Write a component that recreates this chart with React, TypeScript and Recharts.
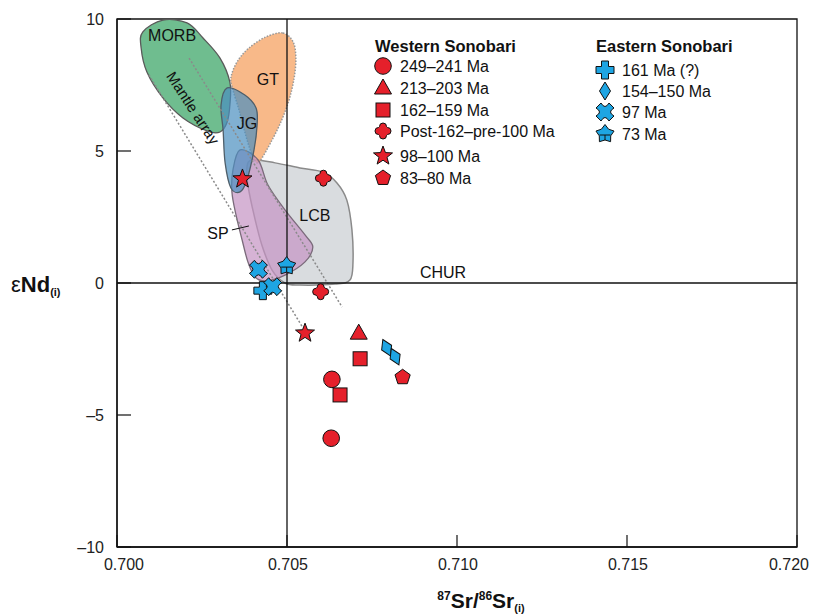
import React from 'react';
import { ScatterChart, Scatter, XAxis, YAxis, ReferenceArea, ReferenceDot } from 'recharts';

const xTicks = [0.7, 0.705, 0.71, 0.715, 0.72];
const yTicks = [-10, -5, 0, 5, 10];

// Western Sonobari
const ma249 = [{ x: 0.70632, y: -3.65 }, { x: 0.7063, y: -5.88 }];
const ma213 = [{ x: 0.70711, y: -1.9 }];
const ma162 = [{ x: 0.70715, y: -2.87 }, { x: 0.70656, y: -4.24 }];
const post162 = [{ x: 0.70607, y: 3.97 }, { x: 0.70599, y: -0.33 }];
const ma98 = [{ x: 0.70369, y: 3.94 }, { x: 0.70553, y: -1.9 }];
const ma83 = [{ x: 0.7084, y: -3.57 }];

// Eastern Sonobari
const ma161 = [{ x: 0.70429, y: -0.29 }];
const ma154 = [{ x: 0.70793, y: -2.45 }, { x: 0.70818, y: -2.79 }];
const ma97 = [{ x: 0.70416, y: 0.52 }, { x: 0.70458, y: -0.14 }];
const ma73 = [{ x: 0.70499, y: 0.64 }];

// fields (outline vertices)
const morb = [
  { x: 0.70135, y: 9.96 }, { x: 0.70076, y: 9.51 }, { x: 0.70071, y: 8.9 }, { x: 0.70088, y: 7.99 },
  { x: 0.70135, y: 7.01 }, { x: 0.70194, y: 6.25 }, { x: 0.70265, y: 5.76 }, { x: 0.70303, y: 5.72 },
  { x: 0.70324, y: 6.1 }, { x: 0.70332, y: 6.74 }, { x: 0.70332, y: 7.61 }, { x: 0.70303, y: 8.52 },
  { x: 0.70253, y: 9.28 }, { x: 0.70206, y: 9.85 },
];
const gt = [
  { x: 0.70488, y: 9.47 }, { x: 0.70518, y: 9.13 }, { x: 0.70526, y: 8.52 }, { x: 0.70521, y: 7.77 },
  { x: 0.70506, y: 6.93 }, { x: 0.70482, y: 6.1 }, { x: 0.70453, y: 5.34 }, { x: 0.70426, y: 4.73 },
  { x: 0.70412, y: 4.55 }, { x: 0.70394, y: 4.96 }, { x: 0.70376, y: 5.72 }, { x: 0.70359, y: 6.55 },
  { x: 0.70341, y: 7.31 }, { x: 0.70335, y: 7.77 }, { x: 0.70353, y: 8.37 }, { x: 0.70388, y: 8.9 },
  { x: 0.70438, y: 9.32 },
];
const jg = [
  { x: 0.70324, y: 7.39 }, { x: 0.70376, y: 7.12 }, { x: 0.70409, y: 6.63 }, { x: 0.70412, y: 5.98 },
  { x: 0.70403, y: 5.04 }, { x: 0.70382, y: 3.9 }, { x: 0.70362, y: 3.45 }, { x: 0.70335, y: 3.6 },
  { x: 0.70318, y: 4.55 }, { x: 0.70312, y: 5.8 }, { x: 0.70306, y: 6.74 },
];
const sp = [
  { x: 0.70362, y: 5.04 }, { x: 0.70415, y: 4.66 }, { x: 0.70444, y: 3.71 }, { x: 0.70494, y: 2.77 },
  { x: 0.70553, y: 1.82 }, { x: 0.70576, y: 1.36 }, { x: 0.70553, y: 0.8 }, { x: 0.70494, y: 0.3 },
  { x: 0.70438, y: 0.08 }, { x: 0.70406, y: 0.23 }, { x: 0.70385, y: 0.8 }, { x: 0.70368, y: 1.63 },
  { x: 0.7035, y: 2.58 }, { x: 0.70338, y: 3.45 }, { x: 0.70341, y: 4.28 },
];
const lcb = [
  { x: 0.70397, y: 4.66 }, { x: 0.70465, y: 4.55 }, { x: 0.70538, y: 4.36 }, { x: 0.70606, y: 4.2 },
  { x: 0.70647, y: 3.79 }, { x: 0.70676, y: 3.14 }, { x: 0.70691, y: 2.01 }, { x: 0.70694, y: 0.76 },
  { x: 0.70685, y: 0.11 }, { x: 0.70641, y: -0.04 }, { x: 0.70538, y: -0.08 }, { x: 0.70494, y: 0.0 },
  { x: 0.70456, y: 0.49 }, { x: 0.70426, y: 1.44 }, { x: 0.70403, y: 2.58 }, { x: 0.70385, y: 3.71 },
  { x: 0.70382, y: 4.36 },
];
const mantleUpper = [{ x: 0.70212, y: 8.52 }, { x: 0.70662, y: -0.91 }];
const mantleLower = [{ x: 0.70094, y: 7.88 }, { x: 0.70547, y: -1.7 }];
const spLeader = [{ x: 0.70338, y: 2.01 }, { x: 0.70388, y: 2.16 }];
const bulkEarthSr = [{ x: 0.705, y: -10 }, { x: 0.705, y: 10 }];
const churLine = [{ x: 0.7, y: 0 }, { x: 0.72, y: 0 }];

const fieldLabels = [
  { text: 'MORB', x: 0.70162, y: 9.39 },
  { text: 'GT', x: 0.70444, y: 7.69 },
  { text: 'JG', x: 0.70382, y: 6.06 },
  { text: 'LCB', x: 0.70582, y: 2.54 },
  { text: 'SP', x: 0.70297, y: 1.89 },
  { text: 'CHUR', x: 0.70959, y: 0.38 },
];

const RED = '#e5202b';
const BLUE = '#1ea5e3';
const FONT = '"Liberation Sans", Arial, sans-serif';

const western = [
  { name: '249–241 Ma', kind: 'circle', data: ma249 },
  { name: '213–203 Ma', kind: 'triangle', data: ma213 },
  { name: '162–159 Ma', kind: 'square', data: ma162 },
  { name: 'Post-162–pre-100 Ma', kind: 'roundCross', data: post162 },
  { name: '98–100 Ma', kind: 'star', data: ma98 },
  { name: '83–80 Ma', kind: 'pentagon', data: ma83 },
];
const eastern = [
  { name: '161 Ma (?)', kind: 'plus', data: ma161 },
  { name: '154–150 Ma', kind: 'diamond', data: ma154 },
  { name: '97 Ma', kind: 'xmark', data: ma97 },
  { name: '73 Ma', kind: 'house', data: ma73 },
];

function polyPoints(cx: number, cy: number, n: number, ro: number, ri?: number) {
  const pts: string[] = [];
  const count = ri ? n * 2 : n;
  for (let i = 0; i < count; i++) {
    const a = -Math.PI / 2 + (i * 2 * Math.PI) / count;
    const r = ri && i % 2 ? ri : ro;
    pts.push(`${cx + r * Math.cos(a)},${cy + r * Math.sin(a)}`);
  }
  return pts.join(' ');
}

function Marker({ kind, cx, cy, fill, tilt = 0 }: any) {
  const s = { fill, stroke: '#111', strokeWidth: 1 };
  switch (kind) {
    case 'circle':
      return <circle cx={cx} cy={cy} r={8.3} {...s} />;
    case 'triangle':
      return <polygon points={`${cx},${cy - 9} ${cx + 8.5},${cy + 6} ${cx - 8.5},${cy + 6}`} {...s} />;
    case 'square':
      return <rect x={cx - 7} y={cy - 7} width={14} height={14} {...s} />;
    case 'roundCross':
      return (
        <path
          d={`M${cx - 3.5},${cy - 4.5} A3.5,3.5 0 0 1 ${cx + 3.5},${cy - 4.5} L${cx + 4.5},${cy - 3.5} A3.5,3.5 0 0 1 ${cx + 4.5},${cy + 3.5} L${cx + 3.5},${cy + 4.5} A3.5,3.5 0 0 1 ${cx - 3.5},${cy + 4.5} L${cx - 4.5},${cy + 3.5} A3.5,3.5 0 0 1 ${cx - 4.5},${cy - 3.5} Z`}
          {...s}
        />
      );
    case 'star':
      return <polygon points={polyPoints(cx, cy, 5, 10, 4.2)} {...s} />;
    case 'pentagon':
      return <polygon points={polyPoints(cx, cy, 5, 8)} {...s} />;
    case 'plus':
      return (
        <path
          d={`M${cx - 3.5},${cy - 9} h7 v5.5 h5.5 v7 h-5.5 v5.5 h-7 v-5.5 h-5.5 v-7 h5.5 Z`}
          {...s}
        />
      );
    case 'diamond':
      return (
        <polygon
          points={`${cx},${cy - 9} ${cx + 5.5},${cy} ${cx},${cy + 9} ${cx - 5.5},${cy}`}
          transform={`rotate(${tilt} ${cx} ${cy})`}
          {...s}
        />
      );
    case 'xmark':
      return (
        <path
          d={`M${cx - 9},${cy - 4} L${cx - 4},${cy - 9} Q${cx},${cy - 2} ${cx + 4},${cy - 9} L${cx + 9},${cy - 4} Q${cx + 2},${cy} ${cx + 9},${cy + 4} L${cx + 4},${cy + 9} Q${cx},${cy + 2} ${cx - 4},${cy + 9} L${cx - 9},${cy + 4} Q${cx - 2},${cy} ${cx - 9},${cy - 4} Z`}
          {...s}
        />
      );
    case 'house':
      return (
        <g>
          <polygon points={polyPoints(cx, cy, 5, 9.5, 6)} {...s} />
          <line x1={cx - 5.5} y1={cy + 1} x2={cx + 5.5} y2={cy + 1} stroke="#111" strokeWidth={1} />
          <line x1={cx} y1={cy + 1} x2={cx} y2={cy + 6} stroke="#111" strokeWidth={1} />
        </g>
      );
    default:
      return null;
  }
}

function closedPath(pts: { x: number; y: number }[]) {
  const n = pts.length;
  let d = `M${pts[0].x},${pts[0].y}`;
  for (let i = 0; i < n; i++) {
    const p0 = pts[(i - 1 + n) % n];
    const p1 = pts[i];
    const p2 = pts[(i + 1) % n];
    const p3 = pts[(i + 2) % n];
    const c1x = p1.x + (p2.x - p0.x) / 6;
    const c1y = p1.y + (p2.y - p0.y) / 6;
    const c2x = p2.x - (p3.x - p1.x) / 6;
    const c2y = p2.y - (p3.y - p1.y) / 6;
    d += ` C${c1x},${c1y} ${c2x},${c2y} ${p2.x},${p2.y}`;
  }
  return d + ' Z';
}

const noDot = () => <g />;

const fieldLine = (style: any) => (p: any) => <path d={closedPath(p.points)} {...style} />;

const XTick = ({ x, y, payload, index }: any) => {
  const shift = index === 0 ? 7 : index === xTicks.length - 1 ? -8 : 1;
  return (
    <g>
      <line x1={x} y1={y} x2={x} y2={y - 12} stroke="#111" strokeWidth={1.2} />
      <text x={x + shift} y={y + 23} textAnchor="middle" fontSize={16} fontFamily={FONT} fill="#222">
        {payload.value.toFixed(3)}
      </text>
    </g>
  );
};

const YTick = ({ x, y, payload }: any) => (
  <g>
    <line x1={x} y1={y} x2={x + 14} y2={y} stroke="#111" strokeWidth={1.2} />
    <text x={x - 13} y={y + 6} textAnchor="end" fontSize={16} fontFamily={FONT} fill="#222">
      {payload.value < 0 ? `–${Math.abs(payload.value)}` : payload.value}
    </text>
  </g>
);

export default function App() {
  return (
    <div style={{ position: 'absolute', left: 0, top: 0, width: 813, height: 615, background: '#fff' }}>
      <ScatterChart width={813} height={615} margin={{ top: 19, right: 16, bottom: 28, left: 57 }}>
        <XAxis
          type="number"
          dataKey="x"
          domain={[0.7, 0.72]}
          ticks={xTicks}
          allowDataOverflow
          height={40}
          tickSize={0}
          tickMargin={0}
          tick={<XTick />}
          axisLine={{ stroke: '#111', strokeWidth: 1.3 }}
        />
        <YAxis
          type="number"
          dataKey="y"
          domain={[-10, 10]}
          ticks={yTicks}
          allowDataOverflow
          width={60}
          tickSize={0}
          tickMargin={0}
          tick={<YTick />}
          axisLine={{ stroke: '#111', strokeWidth: 1.3 }}
        />
        <ReferenceArea x1={0.7} x2={0.72} y1={-10} y2={10} fill="none" stroke="#111" strokeWidth={1.3} />
        <Scatter data={lcb} shape={noDot} isAnimationActive={false}
          line={fieldLine({ fill: '#d5d8db', fillOpacity: 0.9, stroke: '#8a8a8a', strokeWidth: 1.5 })} />
        <Scatter data={morb} shape={noDot} isAnimationActive={false}
          line={fieldLine({ fill: '#5fb683', fillOpacity: 0.9, stroke: '#5a5a5a', strokeWidth: 1.3 })} />
        <Scatter data={gt} shape={noDot} isAnimationActive={false}
          line={fieldLine({ fill: '#f7ad74', fillOpacity: 0.85, stroke: '#999', strokeWidth: 1.5, strokeDasharray: '1.5 1.5' })} />
        <Scatter data={sp} shape={noDot} isAnimationActive={false}
          line={fieldLine({ fill: '#c493c3', fillOpacity: 0.7, stroke: '#7a6a7a', strokeWidth: 1.3 })} />
        <Scatter data={jg} shape={noDot} isAnimationActive={false}
          line={fieldLine({ fill: '#4a8fbf', fillOpacity: 0.7, stroke: '#4f5f6a', strokeWidth: 1.3 })} />
        <Scatter data={mantleUpper} shape={noDot} isAnimationActive={false}
          line={{ stroke: '#8a8a8a', strokeWidth: 1.5, strokeDasharray: '2 2' }} />
        <Scatter data={mantleLower} shape={noDot} isAnimationActive={false}
          line={{ stroke: '#8a8a8a', strokeWidth: 1.5, strokeDasharray: '2 2' }} />
        <Scatter data={spLeader} shape={noDot} isAnimationActive={false}
          line={{ stroke: '#111', strokeWidth: 1 }} />
        <Scatter data={bulkEarthSr} shape={noDot} isAnimationActive={false}
          line={{ stroke: '#111', strokeWidth: 1.3 }} />
        <Scatter data={churLine} shape={noDot} isAnimationActive={false}
          line={{ stroke: '#111', strokeWidth: 1.3 }} />
        {fieldLabels.map((f) => (
          <ReferenceDot
            key={f.text}
            x={f.x}
            y={f.y}
            shape={(p: any) => (
              <text x={p.cx} y={p.cy} textAnchor="middle" dominantBaseline="central" fontSize={16} fontFamily={FONT} fill="#111">
                {f.text}
              </text>
            )}
          />
        ))}
        <ReferenceDot
          x={0.70224}
          y={6.63}
          shape={(p: any) => (
            <text x={p.cx} y={p.cy} textAnchor="middle" dominantBaseline="central" fontSize={15} fontFamily={FONT} fill="#111"
              transform={`rotate(57 ${p.cx} ${p.cy})`}>
              Mantle array
            </text>
          )}
        />
        {western.map((s) => (
          <Scatter key={s.name} name={s.name} data={s.data} isAnimationActive={false}
            shape={(p: any) => <Marker kind={s.kind} cx={p.cx} cy={p.cy} fill={RED} />} />
        ))}
        {eastern.map((s) => (
          <Scatter key={s.name} name={s.name} data={s.data} isAnimationActive={false}
            shape={(p: any) => <Marker kind={s.kind} cx={p.cx} cy={p.cy} fill={BLUE} tilt={-25} />} />
        ))}
      </ScatterChart>
      <svg width={813} height={615} style={{ position: 'absolute', left: 0, top: 0, pointerEvents: 'none' }}>
        <g fontFamily={FONT} fill="#111">
          <text x={375} y={52} fontSize={16.5} fontWeight="bold">Western Sonobari</text>
          {western.map((s, i) => {
            const y = [66, 88, 110, 131, 156, 178][i];
            return (
              <g key={s.name}>
                <Marker kind={s.kind} cx={383} cy={y} fill={RED} />
                <text x={400} y={y + 6} fontSize={16}>{s.name}</text>
              </g>
            );
          })}
          <text x={596} y={52} fontSize={16.5} fontWeight="bold">Eastern Sonobari</text>
          {eastern.map((s, i) => {
            const y = [70, 91, 112, 134][i];
            return (
              <g key={s.name}>
                <Marker kind={s.kind} cx={605} cy={y} fill={BLUE} />
                <text x={622} y={y + 6} fontSize={16}>{s.name}</text>
              </g>
            );
          })}
          <text x={11} y={292} fontSize={22}>
            <tspan>ε</tspan>
            <tspan fontWeight="bold">Nd</tspan>
            <tspan fontWeight="bold" fontSize={11} dy={4}>(i)</tspan>
          </text>
          <text x={481} y={608} fontSize={21} fontWeight="bold" textAnchor="middle">
            <tspan fontSize={12} dy={-8}>87</tspan>
            <tspan dy={8}>Sr/</tspan>
            <tspan fontSize={12} dy={-8}>86</tspan>
            <tspan dy={8}>Sr</tspan>
            <tspan fontSize={11} dy={4}>(i)</tspan>
          </text>
        </g>
      </svg>
    </div>
  );
}
